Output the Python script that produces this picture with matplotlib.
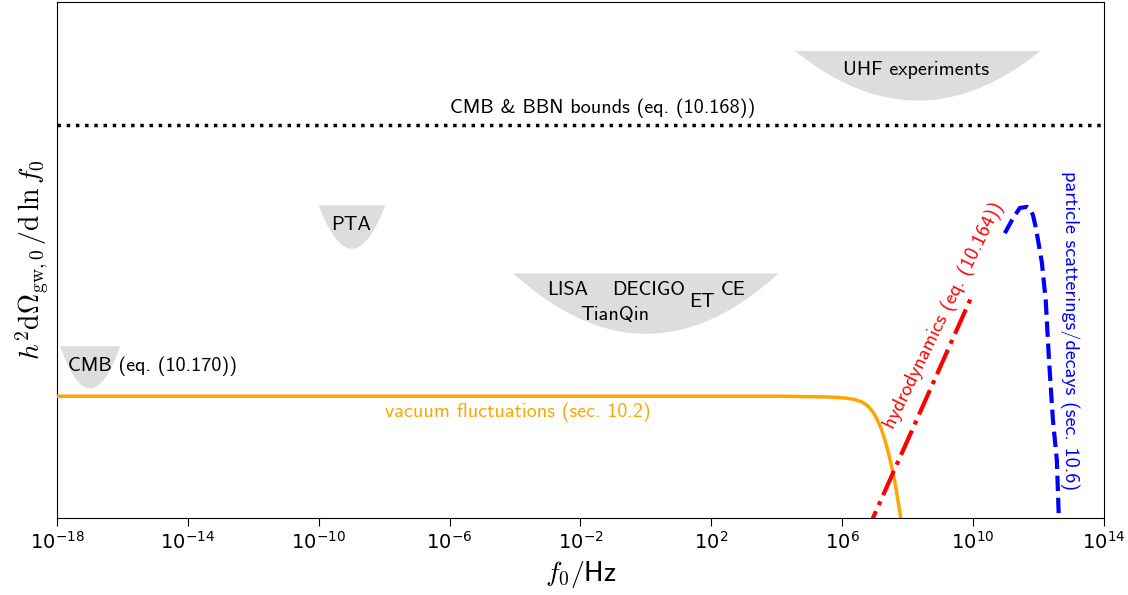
import matplotlib.pyplot as plt
import numpy as np

plt.rcParams['mathtext.fontset'] = 'cm'
plt.rcParams['axes.unicode_minus'] = False
SANS = ['cmss10', 'DejaVu Sans']

# Data (x as log10(f0/Hz), y in arbitrary plot units of log spectrum)
vac_logf = [-18.0, 4.10, 5.625, 6.083, 6.389, 6.603, 6.786, 6.939, 7.061, 7.183, 7.306,
            7.428, 7.52, 7.61, 7.70, 7.76, 7.83]
vac_y = [0.236, 0.236, 0.2345, 0.2326, 0.2296, 0.2248, 0.2171, 0.2054, 0.1919, 0.1744, 0.1512,
         0.1221, 0.0969, 0.0698, 0.0349, 0.0116, -0.0136]

hydro_logf = [6.70, 9.96]
hydro_y = [-0.034, 0.430]

part_logf = [10.97, 11.22, 11.43, 11.55, 11.65, 11.74, 11.83, 11.92, 12.01, 12.10,
             12.22, 12.32, 12.44, 12.56, 12.62, 12.63]
part_y = [0.552, 0.581, 0.601, 0.602, 0.603, 0.599, 0.587, 0.562, 0.529, 0.496,
          0.422, 0.306, 0.190, 0.112, 0.0, -0.02]

bound_y = 0.762

# experimental regions: name, log f min, log f max, top, bottom
regions = [
    ('UHF', 4.55, 12.04, 0.906, 0.810),
    ('PTA', -10.02, -7.98, 0.607, 0.523),
    ('LISA', -4.06, 4.04, 0.475, 0.358),
    ('CMB', -17.92, -16.08, 0.334, 0.252),
]

fig, ax = plt.subplots(figsize=(11.28, 5.95), dpi=100)
fig.subplots_adjust(left=0.0505, right=0.9787, top=0.9966, bottom=0.1294)

for name, lo, hi, top, bot in regions:
    lf = np.linspace(lo, hi, 200)
    u = (lf - (lo + hi) / 2) / ((hi - lo) / 2)
    ax.fill_between(10**lf, top - (top - bot) * (1 - u**2), top, color='#dddddd', lw=0, zorder=1)

ax.axhline(bound_y, color='black', ls=':', lw=2.5, zorder=2)
ax.plot(10**np.array(vac_logf), vac_y, color='orange', lw=2.5, zorder=3)
ax.plot(10**np.array(hydro_logf), hydro_y, color='red', ls='-.', lw=3, zorder=3)
ax.plot(10**np.array(part_logf), part_y, color='blue', ls='--', lw=3, zorder=3)

fs = 14.5
ax.text(10**8.25, 0.868, 'UHF experiments', ha='center', va='center', fontsize=fs, family=SANS)
ax.text(10**-1.31, 0.795, 'CMB & BBN bounds (eq. (10.168))', ha='center', va='center', fontsize=fs, family=SANS)
ax.text(10**-9.01, 0.568, 'PTA', ha='center', va='center', fontsize=fs, family=SANS)
ax.text(10**-2.38, 0.442, 'LISA', ha='center', va='center', fontsize=fs, family=SANS)
ax.text(10**0.09, 0.442, 'DECIGO', ha='center', va='center', fontsize=fs, family=SANS)
ax.text(10**1.71, 0.419, 'ET', ha='center', va='center', fontsize=fs, family=SANS)
ax.text(10**2.66, 0.442, 'CE', ha='center', va='center', fontsize=fs, family=SANS)
ax.text(10**-0.95, 0.393, 'TianQin', ha='center', va='center', fontsize=fs, family=SANS)
ax.text(10**-17.66, 0.295, 'CMB (eq. (10.170))', ha='left', va='center', fontsize=fs, family=SANS)
ax.text(10**-3.91, 0.205, 'vacuum fluctuations (sec. 10.2)', ha='center', va='center',
        fontsize=fs, family=SANS, color='orange')
ax.text(10**9.12, 0.393, 'hydrodynamics (eq. (10.164))', ha='center', va='center',
        fontsize=fs, family=SANS, color='red', rotation=64)
ax.text(10**12.96, 0.364, 'particle scatterings/decays (sec. 10.6)', ha='center', va='center',
        fontsize=fs, family=SANS, color='blue', rotation=-90)

ax.set_xscale('log')
ax.set_xlim(1e-18, 1e14)
ax.set_ylim(0, 1)
ax.set_xticks([10.0**k for k in range(-18, 15, 4)])
ax.xaxis.set_minor_locator(plt.NullLocator())
ax.set_yticks([])
ax.tick_params(axis='x', direction='out', length=6, labelsize=14)

ax.set_xlabel(r'$f_0/$Hz', fontsize=20, family=SANS)
ax.set_ylabel(r'$h^2\mathrm{d}\Omega_{\mathrm{gw},0}\,/\mathrm{d}\,\ln f_0$', fontsize=20)

plt.savefig('out.png')
